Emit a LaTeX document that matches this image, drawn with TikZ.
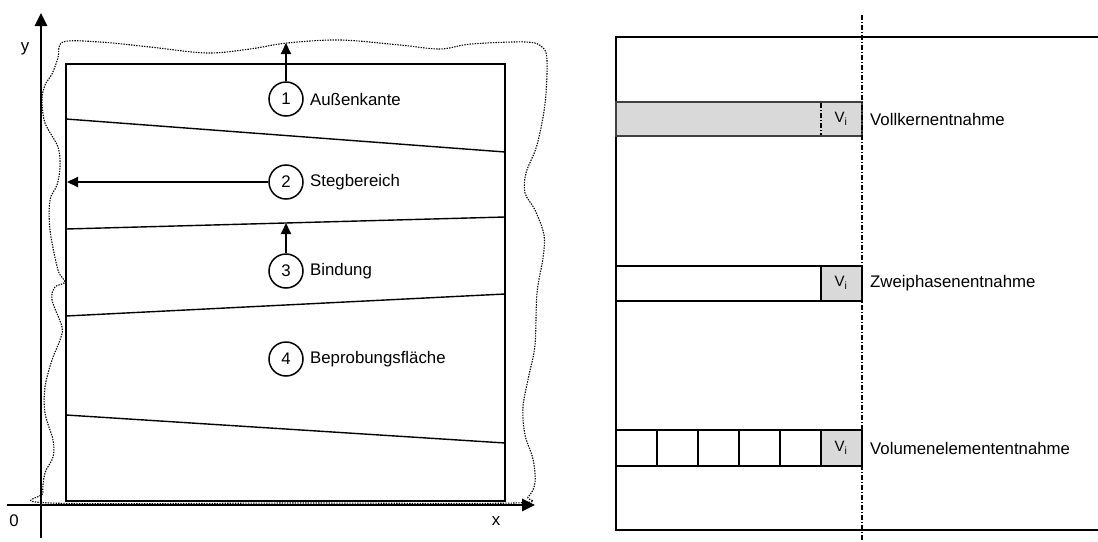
\documentclass[tikz,border=0pt]{standalone}
\usepackage{fontspec}
\setmainfont{Liberation Sans}
\usetikzlibrary{arrows.meta}
\begin{document}
\begin{tikzpicture}[x=1pt,y=-1pt,
  lbl/.style={font=\fontsize{16.8}{19}\selectfont, inner sep=0pt, anchor=west},
  num/.style={circle, draw, line width=1.5pt, minimum size=34pt, inner sep=0pt, font=\fontsize{16.8}{19}\selectfont},
  axis/.style={line width=2.6pt, -{Triangle[length=13pt,width=12pt]}},
  pointer/.style={line width=1.8pt, -{Triangle[length=11pt,width=10pt]}},
  layer/.style={line width=1.4pt},
  outline/.style={line width=1.1pt, dash pattern=on 1.4pt off 1.2pt},
  frame/.style={line width=2.4pt},
  cut/.style={line width=1.1pt, dash pattern=on 5pt off 2pt on 1pt off 2pt},
  bar/.style={line width=1.7pt},
  vol/.style={font=\fontsize{15}{17}\selectfont, inner sep=0pt},
  cell/.style={fill=black!15}]
\useasboundingbox (0,0) rectangle (1098,541);

% ---------- left: plate with its regions ----------
% irregular outer edge of the plate
\draw[outline] plot[smooth cycle, tension=0.55] coordinates {
  (63,42) (100,42) (150,47) (207,53) (250,49) (287,43) (340,40) (400,45) (440,49)
  (471,44) (526,42) (542,47) (547,60) (545,104) (537,145) (526,173) (525,193)
  (535,210) (544,235) (543,258) (537,293) (535,345) (529,375) (523,407) (525,435)
  (533,459) (535,483) (528,497) (514,503) (300,503) (50,503)
  (43,493) (45,473) (53,457) (53,440) (45,413) (45,387) (52,360) (60,340) (62,327)
  (52,300) (55,287) (65,282) (58,270) (50,230) (50,200) (57,185) (60,167) (58,147)
  (45,123) (42,100) (45,85) (52,74) (58,58)};

% cut rectangle and layer boundaries
\draw[layer, line width=1.7pt] (66,64) rectangle (505,501);
\draw[layer] (66,119) -- (505,152);
\draw[layer] (66,229) -- (505,217);
\draw[layer] (66,316) -- (505,294);
\draw[layer] (66,415) -- (505,443);

% axes
\draw[axis] (7,505) -- (535,505);
\draw[axis] (41,538) -- (41,13);
\node[lbl, anchor=center] (ylab) at (25,49) {y};
\node[lbl, anchor=center] (xlab) at (496,521) {x};
\node[lbl, anchor=center] (orig) at (14,521) {0};

% numbered regions
\node[num] (c1) at (286,99) {1};
\node[num] (c2) at (286,182) {2};
\node[num] (c3) at (286,271) {3};
\node[num] (c4) at (286,359) {4};
\node[lbl] (t1) at (310,99) {Außenkante};
\node[lbl] (t2) at (310,182) {Stegbereich};
\node[lbl] (t3) at (310,271) {Bindung};
\node[lbl] (t4) at (310,359) {Beprobungsfläche};

\coordinate (p1) at (286,43);
\coordinate (p2) at (67,182);
\coordinate (p3) at (286,223);
\draw[pointer] (c1) -- (p1);
\draw[pointer] (c2) -- (p2);
\draw[pointer] (c3) -- (p3);

% ---------- right: sampling schemes ----------
\draw[frame] (1098,37) -- (616,37) -- (616,530) -- (1098,530);

% full core
\fill[black!15] (616,102) rectangle (862,136);
\draw[bar, black!75] (616,102) rectangle (862,136);
\draw[cut] (821,103) -- (821,135);
\node[vol] (v1) at (841,119) {V\textsubscript{i}};
\node[lbl] (s1) at (870,119) {Vollkernentnahme};

% two-phase
\draw[bar, cell] (821,266) rectangle (862,301);
\draw[bar] (616,266) rectangle (862,301);
\node[vol] (v2) at (841,283) {V\textsubscript{i}};
\node[lbl] (s2) at (870,283) {Zweiphasenentnahme};

% volume elements
\draw[bar, cell] (821,430) rectangle (862,466);
\draw[bar] (616,430) rectangle (862,466);
\foreach \cx in {657,698,739,780,821} \draw[bar] (\cx,430) -- (\cx,466);
\node[vol] (v3) at (841,448) {V\textsubscript{i}};
\node[lbl] (s3) at (870,448) {Volumenelemententnahme};

% common section line
\draw[cut] (862,15) -- (862,541);
\end{tikzpicture}
\end{document}
